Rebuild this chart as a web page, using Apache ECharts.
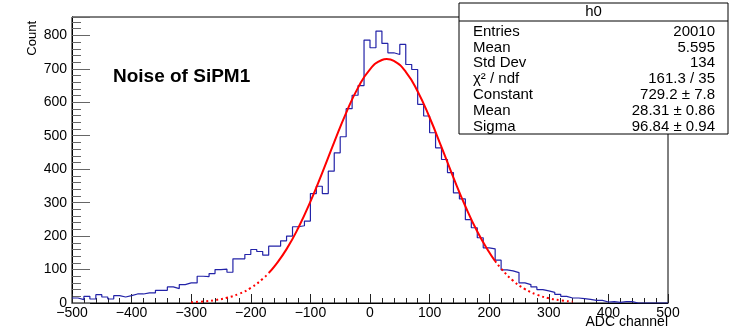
<!DOCTYPE html>
<html>
<head>
<meta charset="utf-8">
<script src="https://cdn.jsdelivr.net/npm/echarts@6/dist/echarts.min.js"></script>
<style>
html,body{margin:0;padding:0;background:#fff;}
#chart{width:738px;height:331px;}
</style>
</head>
<body>
<div id="chart"></div>
<script>
// ---- data ----
const histMin = -500;
const histMax = 500;
const binWidth = 10;
const counts = [
  15,10,20,12,25,18,12,22,18,22,
  27,27,30,30,38,38,48,43,55,60,
  60,80,79,88,100,101,92,132,132,145,
  160,154,143,170,170,186,200,228,231,245,
  327,349,327,394,449,497,581,621,650,786,
  763,813,776,748,743,773,713,698,594,559,
  509,464,429,390,329,311,249,225,195,165,
  162,128,99,96,91,60,55,48,40,36,
  32,26,20,15,15,13,11,8,8,3,
  4,2,4,4,0,0,0,0,0,0
];
// fit curve
const fitX = [-300,-280,-260,-240,-220,-200,-180,-170,-160,-140,-120,-100,-80,-60,-40,-20,0,20,28,40,60,80,100,120,140,160,180,200,210,220,240,260,280,300,320,340];
const fitY = [2.3,4.6,8.7,15.7,27.2,45.3,72.1,89.6,110.1,161.0,225.7,303.1,390.1,481.1,568.6,643.9,698.7,726.5,729.2,723.9,691.2,632.4,554.5,465.8,375.0,289.3,213.8,151.5,125.4,102.8,66.9,41.7,24.9,14.2,7.8,4.1];
const fitRange = [-170, 210];
const statsTitle = "h0";
const statsLabels = ["Entries","Mean","Std Dev","\u03c7\u00b2 / ndf","Constant","Mean","Sigma"];
const statsValues = ["20010","5.595","134","161.3 / 35","729.2 \u00b1 7.8","28.31 \u00b1 0.86","96.84 \u00b1 0.94"];
const titleText = "Noise of SiPM1";
const xName = "ADC channel";
const yName = "Count";

// ---- build ----
const histData = counts.map((c, i) => [histMin + i * binWidth, c]);
histData.push([histMax, counts[counts.length - 1]]);

function seg(filter) {
  const out = [];
  fitX.forEach((x, i) => { if (filter(x)) out.push([x, fitY[i]]); });
  return out;
}
const fitLeft = seg(x => x <= fitRange[0]);
const fitMid = seg(x => x >= fitRange[0] && x <= fitRange[1]);
const fitRight = seg(x => x >= fitRange[1]);

const FONT = '"Liberation Sans", Arial, Helvetica, sans-serif';
const chart = echarts.init(document.getElementById('chart'), null, {renderer: 'canvas'});

const statsGraphics = [];
const bx = 459, by = 3, bw = 269, bh = 131;
statsGraphics.push({type:'rect', shape:{x:bx, y:by, width:bw, height:bh}, style:{fill:'#fff', stroke:'#000', lineWidth:1}, z:100});
statsGraphics.push({type:'line', shape:{x1:bx, y1:21, x2:bx+bw, y2:21}, style:{stroke:'#000', lineWidth:1}, z:101});
statsGraphics.push({type:'text', x:bx+bw/2, y:12, style:{text:statsTitle, font:'15px '+FONT, fill:'#000', align:'center', verticalAlign:'middle'}, z:101});
statsLabels.forEach((l, i) => {
  const yy = 31.5 + i * 15.9;
  statsGraphics.push({type:'text', x:473, y:yy, style:{text:l, font:'15px '+FONT, fill:'#000', align:'left', verticalAlign:'middle'}, z:101});
  statsGraphics.push({type:'text', x:715, y:yy, style:{text:statsValues[i], font:'15px '+FONT, fill:'#000', align:'right', verticalAlign:'middle'}, z:101});
});

const option = {
  backgroundColor: '#fff',
  animation: false,
  grid: {left: 72, right: 70, top: 17, bottom: 28, show: true, borderColor: '#000', borderWidth: 1, backgroundColor: 'transparent'},
  xAxis: {
    type: 'value', min: histMin, max: histMax, interval: 100,
    axisLine: {show: true, onZero: false, lineStyle: {color: '#000', width: 1}},
    axisTick: {show: true, inside: true, length: 9, lineStyle: {color: '#222'}},
    minorTick: {show: true, splitNumber: 5, length: 5, lineStyle: {color: '#222'}},
    splitLine: {show: false},
    axisLabel: {color: '#000', fontFamily: FONT, fontSize: 14, margin: 3,
      formatter: v => String(v).replace('-', '\u2212')}
  },
  yAxis: {
    type: 'value', min: 0, max: 855, interval: 100,
    axisLine: {show: true, onZero: false, lineStyle: {color: '#000', width: 1}},
    axisTick: {show: true, inside: true, length: 18, lineStyle: {color: '#666'}},
    minorTick: {show: true, splitNumber: 5, length: 9, lineStyle: {color: '#666'}},
    splitLine: {show: false},
    axisLabel: {color: '#000', fontFamily: FONT, fontSize: 14, margin: 5, showMaxLabel: false}
  },
  series: [
    {type: 'line', data: histData, step: 'end', symbol: 'none', z: 2,
     lineStyle: {color: '#2323a8', width: 1.2}},
    {type: 'line', data: fitLeft, smooth: true, symbol: 'none', z: 3,
     lineStyle: {color: '#ff0000', width: 2, type: [2, 3]}},
    {type: 'line', data: fitMid, smooth: true, symbol: 'none', z: 3,
     lineStyle: {color: '#ff0000', width: 2}},
    {type: 'line', data: fitRight, smooth: true, symbol: 'none', z: 3,
     lineStyle: {color: '#ff0000', width: 2, type: [2, 3]}}
  ],
  graphic: [
    {type: 'text', x: 113, y: 77, style: {text: titleText, font: 'bold 19px ' + FONT, fill: '#000', verticalAlign: 'middle'}},
    {type: 'text', x: 668, y: 322, style: {text: xName, font: '14px ' + FONT, fill: '#000', align: 'right', verticalAlign: 'middle'}},
    {type: 'text', x: 32, y: 21, rotation: Math.PI / 2, style: {text: yName, font: '13px ' + FONT, fill: '#000', align: 'right', verticalAlign: 'middle'}}
  ].concat(statsGraphics)
};
chart.setOption(option);
</script>
</body>
</html>
